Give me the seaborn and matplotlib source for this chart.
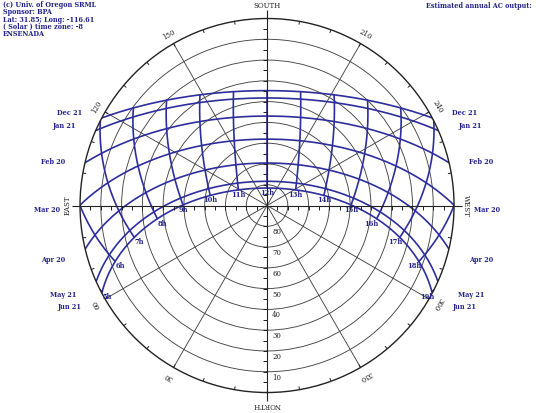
import numpy as np
import pandas as pd
import matplotlib.pyplot as plt
import seaborn as sns

# Sun path chart data (Ensenada)
latitude = 31.85
dates = ['Dec 21', 'Jan 21', 'Feb 20', 'Mar 20', 'Apr 20', 'May 21', 'Jun 21']
declination = [-23.44, -19.9, -11.2, -0.1, 11.4, 20.2, 23.44]
hours = [5, 6, 7, 8, 9, 10, 11, 12, 13, 14, 15, 16, 17, 18, 19]
alt_rings = [10, 20, 30, 40, 50, 60, 70, 80]
az_labels = [30, 60, 120, 150, 210, 240, 300, 330]
compass = ['NORTH', 'EAST', 'SOUTH', 'WEST']
compass_az = [0, 90, 180, 270]
info_lines = ['(c) Univ. of Oregon SRML', 'Sponsor: BPA', 'Lat: 31.85; Long: -116.61',
              '( Solar ) time zone: -8', 'ENSENADA']
date_label_dy = [-4.5, -4.5, -0.5, 4.5, 11, 13.5, 14]   # px, downward

BLUE = '#2d2e9c'
TXT = '#22228a'
GRID = '#444444'
PT = 0.72  # points per pixel at 100 dpi


def sun_position(dec, ha):
    lat, d, h = np.radians(latitude), np.radians(dec), np.radians(ha)
    east = -np.cos(d) * np.sin(h)
    north = np.cos(lat) * np.sin(d) - np.sin(lat) * np.cos(d) * np.cos(h)
    up = np.sin(lat) * np.sin(d) + np.cos(lat) * np.cos(d) * np.cos(h)
    az = np.degrees(np.arctan2(east, north)) % 360
    alt = np.degrees(np.arcsin(np.clip(up, -1, 1)))
    return az, alt


# build path table: date curves + hour lines
rows = []
for name, dec in zip(dates, declination):
    ha0 = np.degrees(np.arccos(-np.tan(np.radians(latitude)) * np.tan(np.radians(dec))))
    ha = np.linspace(-ha0, ha0, 300)
    az, alt = sun_position(dec, ha)
    rows.append(pd.DataFrame({'theta': np.radians(az), 'r': 90 - alt, 'curve': name}))
dec_sweep = np.linspace(min(declination), max(declination), 200)
for h in hours:
    az, alt = sun_position(dec_sweep, 15.0 * (h - 12))
    rows.append(pd.DataFrame({'theta': np.radians(az), 'r': 90 - alt, 'curve': f'{h}h'}))
paths = pd.concat(rows, ignore_index=True)

sns.set_style('white')
plt.rcParams['font.family'] = ['DejaVu Serif']

fig = plt.figure(figsize=(5.36, 4.13), dpi=100)
ax = fig.add_axes([0.1493, 0.0496, 0.6978, 0.9056], projection='polar')
ax.set_theta_zero_location('S')
ax.set_theta_direction(-1)

sns.lineplot(data=paths, x='theta', y='r', units='curve', estimator=None, sort=False,
             color=BLUE, lw=1.2, ax=ax, legend=False)

ax.set_ylim(0, 90)
ax.set_yticks([90 - a for a in alt_rings])
ax.set_yticklabels([])
ax.set_xticks(np.radians(np.arange(0, 360, 30)))
ax.set_xticklabels([])
ax.set_xlabel('')
ax.set_ylabel('')
ax.grid(True, color=GRID, lw=0.65)
ax.spines['polar'].set_color('#222222')
ax.spines['polar'].set_linewidth(1.0)

# main N-S / E-W axes, extending slightly outside the circle
ax.vlines(np.radians(compass_az), 0, 94, color='#222222', lw=0.8, clip_on=False)
# ticks every 5 deg of altitude
tick_r = np.arange(5, 90, 5)
for a in [90, 270]:
    ax.plot(np.full(len(tick_r), np.radians(a)), tick_r, ls='none', marker=3,
            ms=3, mew=0.7, color='#222222')
for a in [0, 180]:
    ax.plot(np.full(len(tick_r), np.radians(a)), tick_r, ls='none', marker=0,
            ms=3, mew=0.7, color='#222222')
# outer ring ticks every 10 deg of azimuth
ax.vlines(np.radians(np.arange(0, 360, 10)), 88.4, 90, color='#222222', lw=0.7)

# azimuth labels
for a in az_labels:
    ax.text(np.radians(a), 94.8, str(a), rotation=180 - a, rotation_mode='anchor',
            ha='center', va='center', fontsize=5, color='#222222', clip_on=False)
for name, a in zip(compass, compass_az):
    ax.text(np.radians(a), 95.8, name, rotation=180 - a, rotation_mode='anchor',
            ha='center', va='center', fontsize=5, color='#222222', clip_on=False)

# altitude labels along the north axis
for a in alt_rings:
    ax.annotate(str(a), xy=(0, 90 - a), xytext=(5 * PT, -6 * PT), textcoords='offset points',
                ha='left', va='center', fontsize=5, color='#222222')

# date labels at sunrise / sunset
for name, dec, dy in zip(dates, declination, date_label_dy):
    az_rise = np.degrees(np.arccos(np.sin(np.radians(dec)) / np.cos(np.radians(latitude))))
    ax.annotate(name, xy=(np.radians(az_rise), 90), xytext=(-20 * PT, -dy * PT),
                textcoords='offset points', ha='right', va='center', fontsize=4.7,
                fontweight='bold', color=TXT, annotation_clip=False)
    ax.annotate(name, xy=(np.radians(360 - az_rise), 90), xytext=(20 * PT, -dy * PT),
                textcoords='offset points', ha='left', va='center', fontsize=4.7,
                fontweight='bold', color=TXT, annotation_clip=False)

# hour labels at the June path
for h in hours:
    az, alt = sun_position(max(declination), 15.0 * (h - 12))
    dx = 0 if abs(h - 12) < 4 else (5 if h < 12 else -5)
    ax.annotate(f'{h}h', xy=(np.radians(az), 90 - alt), xytext=(dx * PT, -5 * PT),
                textcoords='offset points', ha='center', va='center', fontsize=4.8,
                fontweight='bold', color=TXT, annotation_clip=False)

# header text
for i, line in enumerate(info_lines):
    fig.text(3 / 536, 1 - (5 + 7.3 * i) / 413, line, ha='left', va='center',
             fontsize=4.7, fontweight='bold', color=TXT)
fig.text(532 / 536, 1 - 5.5 / 413, 'Estimated annual AC output:', ha='right', va='center',
         fontsize=4.7, color=TXT, fontweight='bold')

fig.savefig('out.png', dpi=100)
